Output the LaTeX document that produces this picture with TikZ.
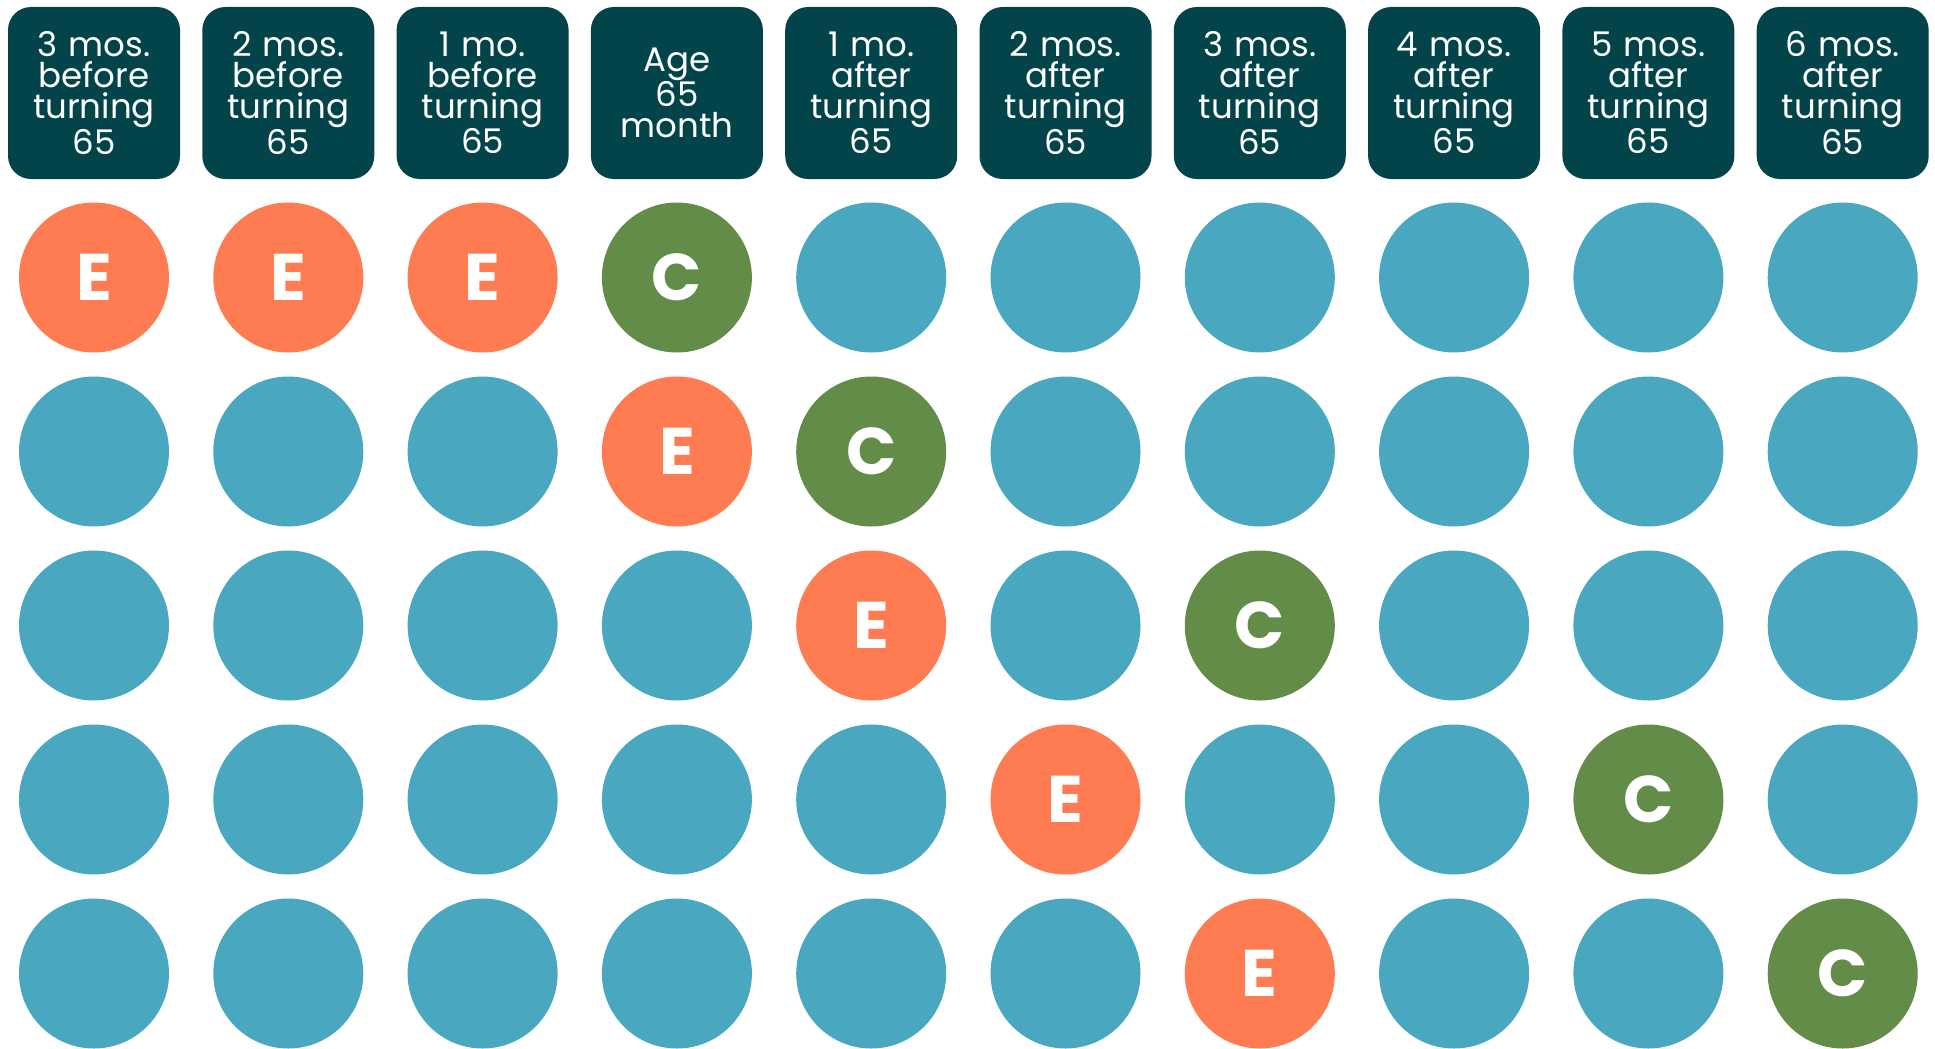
\documentclass[tikz,border=0pt]{standalone}
\usepackage{fontspec}
\setmainfont{Poppins}
\usepackage{xcolor}
\definecolor{header}{HTML}{02444A}
\definecolor{enroll}{HTML}{FF7B52}
\definecolor{cover}{HTML}{638C48}
\definecolor{idle}{HTML}{49A8BF}
\tikzset{
  hdr/.style={fill=header,rounded corners=23pt,minimum width=172pt,minimum height=172pt,
    text width=172pt,inner sep=0pt,align=center,text=white,font=\fontsize{34}{31}\selectfont},
  dot/.style={circle,minimum size=150pt,inner sep=0pt,text=white,
    font=\fontsize{66}{66}\selectfont\bfseries},
  dotE/.style={dot,fill=enroll},
  dotC/.style={dot,fill=cover},
  dotn/.style={dot,fill=idle}
}
\begin{document}
\begin{tikzpicture}[x=1pt,y=-1pt]
  \useasboundingbox (0,0) rectangle (1935,1049);
  % month headers
  \node[hdr] (h1) at (94,93) {3 mos.\\before\\turning\\65};
  \node[hdr] (h2) at (288.3,93) {2 mos.\\before\\turning\\65};
  \node[hdr] (h3) at (482.6,93) {1 mo.\\before\\turning\\65};
  \node[hdr] (h4) at (676.9,93) {Age\\65\\month};
  \node[hdr] (h5) at (871.2,93) {1 mo.\\after\\turning\\65};
  \node[hdr] (h6) at (1065.5,93) {2 mos.\\after\\turning\\65};
  \node[hdr] (h7) at (1259.8,93) {3 mos.\\after\\turning\\65};
  \node[hdr] (h8) at (1454.1,93) {4 mos.\\after\\turning\\65};
  \node[hdr] (h9) at (1648.4,93) {5 mos.\\after\\turning\\65};
  \node[hdr] (h10) at (1842.7,93) {6 mos.\\after\\turning\\65};
  % E = enrollment, C = coverage
  \foreach \spec [count=\r] in {
      {E,E,E,C,n,n,n,n,n,n},
      {n,n,n,E,C,n,n,n,n,n},
      {n,n,n,n,E,n,C,n,n,n},
      {n,n,n,n,n,E,n,n,C,n},
      {n,n,n,n,n,n,E,n,n,C}}
    \foreach \m [count=\c] in \spec
      \node[dot\m] (d\r-\c) at ({94+(\c-1)*194.3},{277.5+(\r-1)*174}) {\if n\m\else\m\fi};
\end{tikzpicture}
\end{document}
